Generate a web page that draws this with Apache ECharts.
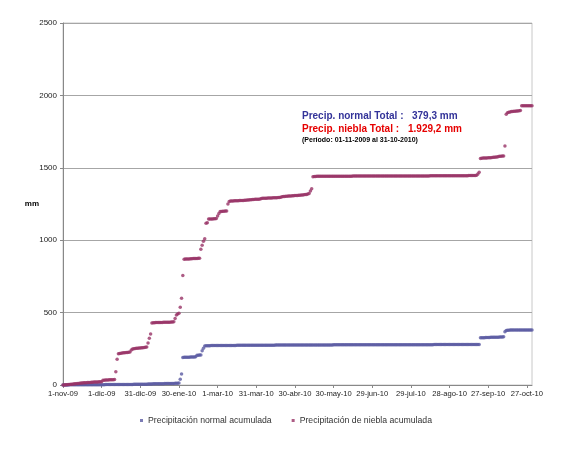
<!DOCTYPE html>
<html>
<head>
<meta charset="utf-8">
<script src="https://cdn.jsdelivr.net/npm/echarts@6/dist/echarts.min.js"></script>
<style>
  html, body { margin: 0; padding: 0; background: #fff; }
  #chart { width: 572px; height: 450px; }
</style>
</head>
<body>
<div id="chart"></div>
<script>
// etiquetas del eje X (cada 30 días)
const tickLabels = ['1-nov-09', '1-dic-09', '31-dic-09', '30-ene-10', '1-mar-10', '31-mar-10', '30-abr-10',
  '30-may-10', '29-jun-10', '29-jul-10', '28-ago-10', '27-sep-10', '27-oct-10']

const yTicks = [0, 500, 1000, 1500, 2000, 2500]

// precipitación normal acumulada (mm), 01-11-2009 .. 31-10-2010
const normal = [
  0, 0, 0, 0, 0, 1, 1, 1, 1, 1,
  1, 1, 1, 1, 1, 1, 1, 2, 2, 2,
  2, 2, 2, 2, 2, 2, 2, 2, 2, 2,
  2, 2, 2, 3, 3, 3, 3, 3, 3, 3,
  3, 3, 3, 3, 3, 3, 4, 4, 4, 4,
  4, 4, 4, 4, 4, 5, 5, 5, 5, 5,
  5, 5, 6, 6, 6, 6, 7, 7, 7, 7,
  8, 8, 8, 8, 9, 9, 9, 9, 9, 10,
  10, 10, 10, 11, 11, 11, 11, 12, 12, 12,
  14, 39, 76, 190, 191, 191, 192, 192, 192, 193,
  193, 194, 194, 195, 205, 206, 207, 208, 237, 253,
  270, 271, 271, 271, 271, 272, 272, 272, 272, 272,
  272, 272, 272, 272, 273, 273, 273, 273, 273, 273,
  273, 273, 273, 273, 273, 274, 274, 274, 274, 274,
  274, 274, 274, 274, 274, 274, 274, 274, 275, 275,
  275, 275, 275, 275, 275, 275, 275, 275, 275, 275,
  275, 275, 275, 275, 275, 276, 276, 276, 276, 276,
  276, 276, 276, 276, 276, 276, 276, 276, 276, 276,
  276, 276, 276, 276, 276, 277, 277, 277, 277, 277,
  277, 277, 277, 277, 277, 277, 277, 277, 277, 277,
  277, 277, 277, 277, 277, 277, 277, 277, 277, 277,
  278, 278, 278, 278, 278, 278, 278, 278, 278, 278,
  278, 278, 278, 278, 278, 278, 278, 278, 278, 278,
  278, 278, 278, 278, 278, 278, 278, 278, 278, 278,
  278, 278, 278, 278, 278, 278, 278, 278, 278, 278,
  278, 278, 278, 278, 278, 278, 278, 278, 278, 278,
  278, 278, 278, 278, 278, 278, 278, 278, 278, 278,
  278, 278, 278, 278, 278, 278, 278, 278, 278, 278,
  278, 278, 278, 278, 278, 278, 278, 278, 279, 279,
  279, 279, 279, 279, 279, 279, 279, 279, 279, 279,
  279, 279, 279, 279, 279, 279, 279, 279, 279, 279,
  279, 279, 279, 279, 279, 280, 280, 280, 280, 280,
  280, 280, 280, 280, 326, 327, 327, 327, 328, 328,
  328, 328, 329, 329, 329, 330, 330, 330, 330, 331,
  331, 332, 333, 368, 377, 378, 378, 379, 379, 379,
  379, 379, 379, 379, 379, 379, 379, 379, 379, 379,
  379.3, 379.3, 379.3, 379.3, 379.3
]

// precipitación de niebla acumulada (mm)
const niebla = [
  0, 0, 1, 2, 3, 4, 5, 6, 7, 8,
  9, 10, 11, 12, 13, 14, 15, 15, 16, 17,
  18, 18, 19, 19, 20, 20, 21, 21, 22, 22,
  23, 32, 33, 34, 35, 35, 36, 36, 37, 37,
  38, 92, 177, 215, 218, 220, 221, 222, 223, 224,
  225, 226, 228, 242, 248, 250, 252, 253, 254, 255,
  256, 257, 258, 259, 260, 262, 290, 322, 352, 428,
  430, 430, 431, 431, 431, 432, 432, 432, 433, 433,
  433, 434, 434, 434, 435, 435, 436, 460, 483, 490,
  495, 537, 599, 757, 868, 870, 870, 871, 871, 872,
  872, 873, 873, 874, 874, 875, 876, 937, 965, 992,
  1010, 1117, 1120, 1146, 1146, 1147, 1147, 1148, 1148, 1149,
  1167, 1185, 1199, 1199, 1200, 1200, 1201, 1202, 1250, 1268,
  1270, 1271, 1271, 1272, 1272, 1273, 1273, 1274, 1274, 1275,
  1275, 1276, 1276, 1277, 1278, 1279, 1280, 1281, 1281, 1282,
  1282, 1283, 1283, 1284, 1288, 1289, 1289, 1290, 1290, 1291,
  1291, 1292, 1292, 1293, 1293, 1294, 1294, 1295, 1295, 1296,
  1300, 1301, 1302, 1303, 1304, 1305, 1306, 1306, 1307, 1307,
  1308, 1308, 1309, 1310, 1311, 1312, 1313, 1314, 1315, 1316,
  1319, 1322, 1340, 1356, 1438, 1440, 1440, 1441, 1441, 1441,
  1441, 1441, 1441, 1441, 1441, 1442, 1442, 1442, 1442, 1442,
  1442, 1442, 1442, 1442, 1442, 1442, 1442, 1442, 1442, 1442,
  1442, 1442, 1442, 1442, 1442, 1443, 1443, 1443, 1443, 1443,
  1443, 1443, 1443, 1443, 1443, 1443, 1443, 1443, 1443, 1443,
  1443, 1443, 1443, 1443, 1443, 1443, 1443, 1443, 1443, 1443,
  1443, 1443, 1443, 1443, 1443, 1444, 1444, 1444, 1444, 1444,
  1444, 1444, 1444, 1444, 1444, 1444, 1444, 1444, 1444, 1444,
  1444, 1444, 1444, 1444, 1444, 1444, 1444, 1444, 1444, 1444,
  1444, 1444, 1444, 1444, 1444, 1445, 1445, 1445, 1445, 1445,
  1445, 1445, 1445, 1445, 1445, 1445, 1445, 1445, 1445, 1445,
  1445, 1445, 1445, 1445, 1445, 1445, 1445, 1445, 1445, 1445,
  1445, 1445, 1445, 1445, 1445, 1446, 1446, 1446, 1446, 1446,
  1447, 1448, 1458, 1470, 1565, 1566, 1567, 1567, 1568, 1568,
  1569, 1569, 1570, 1571, 1572, 1573, 1574, 1575, 1578, 1580,
  1580, 1581, 1582, 1650, 1870, 1880, 1884, 1886, 1888, 1889,
  1890, 1891, 1892, 1893, 1894, 1895, 1929, 1929, 1929, 1929,
  1929.2, 1929.2, 1929.2, 1929.2, 1929.2
]

// un día por categoría
const days = []
const start = new Date(2009, 10, 1)
for (let i = 0; i < normal.length; i++) {
  const d = new Date(start.getTime() + i * 86400000)
  days.push(d.toISOString().slice(0, 10))
}

const chart = echarts.init(document.getElementById('chart'))

const option = {
  animation: false,
  backgroundColor: '#fff',
  grid: {
    left: 63,
    right: 40,
    top: 23,
    bottom: 65,
    show: true,
    borderColor: '#c8c8c8',
    borderWidth: 1
  },
  legend: {
    bottom: 20,
    left: 'center',
    icon: 'rect',
    itemWidth: 3,
    itemHeight: 3,
    itemGap: 20,
    textStyle: { fontFamily: 'Arial, Liberation Sans', fontSize: 8.7, color: '#333' },
    data: ['Precipitación normal acumulada', 'Precipitación de niebla acumulada']
  },
  xAxis: {
    type: 'category',
    data: days,
    boundaryGap: false,
    axisLine: { lineStyle: { color: '#888' } },
    axisTick: { interval: 29, length: 3, lineStyle: { color: '#888' } },
    axisLabel: {
      interval: 29,
      margin: 5,
      fontFamily: 'Arial, Liberation Sans',
      fontSize: 7.6,
      color: '#222',
      formatter: (value, index) => tickLabels[Math.round(index / 30)] || ''
    },
    splitLine: { show: false }
  },
  yAxis: {
    type: 'value',
    min: yTicks[0],
    max: yTicks[yTicks.length - 1],
    interval: 500,
    name: 'mm',
    nameLocation: 'middle',
    nameRotate: 0,
    nameGap: 24,
    nameMoveOverlap: false,
    nameTextStyle: { fontFamily: 'Arial, Liberation Sans', fontSize: 8, fontWeight: 'bold', color: '#000' },
    axisLine: { show: true, lineStyle: { color: '#888' } },
    axisTick: { show: true, length: 3, lineStyle: { color: '#888' } },
    axisLabel: {
      margin: 6,
      fontFamily: 'Arial, Liberation Sans',
      fontSize: 8,
      color: '#222',
      formatter: (v) => String(v)
    },
    splitLine: { lineStyle: { color: '#a6a6a6', width: 1 } }
  },
  graphic: [
    {
      type: 'text', left: 302, top: 111,
      style: { text: 'Precip. normal Total :', fill: '#333399', font: 'bold 10px Arial, Liberation Sans' }
    },
    {
      type: 'text', left: 412, top: 111,
      style: { text: '379,3 mm', fill: '#333399', font: 'bold 10px Arial, Liberation Sans' }
    },
    {
      type: 'text', left: 302, top: 124,
      style: { text: 'Precip. niebla Total :', fill: '#e60000', font: 'bold 10px Arial, Liberation Sans' }
    },
    {
      type: 'text', left: 408, top: 124,
      style: { text: '1.929,2 mm', fill: '#e60000', font: 'bold 10px Arial, Liberation Sans' }
    },
    {
      type: 'text', left: 302, top: 137,
      style: { text: '(Período: 01-11-2009 al 31-10-2010)', fill: '#000', font: 'bold 7px Arial, Liberation Sans' }
    }
  ],
  series: [
    {
      name: 'Precipitación normal acumulada',
      type: 'scatter',
      data: normal,
      symbol: 'circle',
      symbolSize: 3.5,
      itemStyle: { color: '#5b5ba3' }
    },
    {
      name: 'Precipitación de niebla acumulada',
      type: 'scatter',
      data: niebla,
      symbol: 'circle',
      symbolSize: 3.5,
      itemStyle: { color: '#993366' }
    }
  ]
}

chart.setOption(option)
</script>
</body>
</html>
